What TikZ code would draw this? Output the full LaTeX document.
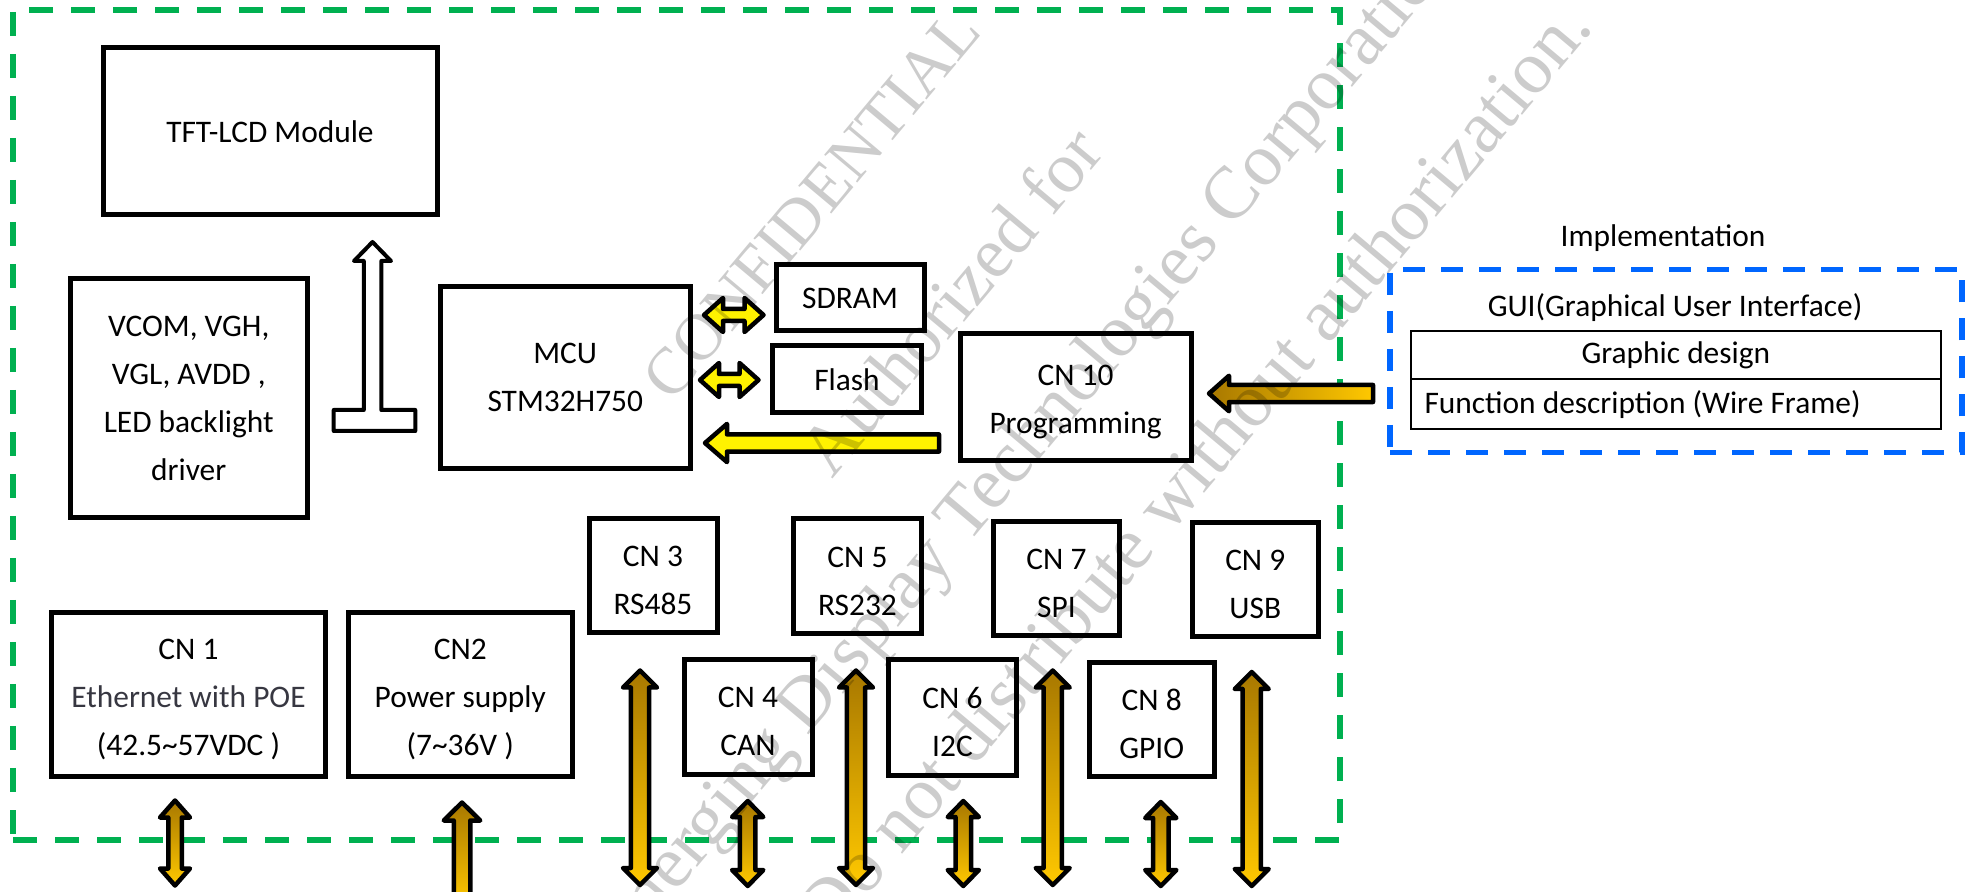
\documentclass[tikz,border=0pt]{standalone}
\usepackage{fontspec}
\setmainfont{Carlito}
\newfontfamily\wmfont{Liberation Serif}
\definecolor{boardgreen}{RGB}{0,176,80}
\definecolor{guiblue}{RGB}{0,102,255}
\definecolor{goldtop}{RGB}{168,120,0}
\definecolor{goldbot}{RGB}{255,200,0}
\definecolor{ethgray}{RGB}{55,55,65}
\newcommand\dfont{\fontsize{15.7}{24}\selectfont}
\newcommand\lowr{\rule{0pt}{15pt}}
\newcommand\vdblarrow[7]{%
  \path[#1] (#2,#3) -- ({#2+#5},{#3+#7}) -- ({#2+#6},{#3+#7}) -- ({#2+#6},{#4-#7}) -- ({#2+#5},{#4-#7}) -- (#2,#4) -- ({#2-#5},{#4-#7}) -- ({#2-#6},{#4-#7}) -- ({#2-#6},{#3+#7}) -- ({#2-#5},{#3+#7}) -- cycle;}
\newcommand\uparrowshape[7]{%
  \path[#1] (#2,#3) -- ({#2+#5},{#3+#7}) -- ({#2+#6},{#3+#7}) -- ({#2+#6},#4) -- ({#2-#6},#4) -- ({#2-#6},{#3+#7}) -- ({#2-#5},{#3+#7}) -- cycle;}
\newcommand\hdblarrow[7]{%
  \path[#1] (#3,#2) -- ({#3+#7},{#2-#5}) -- ({#3+#7},{#2-#6}) -- ({#4-#7},{#2-#6}) -- ({#4-#7},{#2-#5}) -- (#4,#2) -- ({#4-#7},{#2+#5}) -- ({#4-#7},{#2+#6}) -- ({#3+#7},{#2+#6}) -- ({#3+#7},{#2+#5}) -- cycle;}
\newcommand\larrowshape[7]{%
  \path[#1] (#3,#2) -- ({#3+#7},{#2-#5}) -- ({#3+#7},{#2-#6}) -- (#4,{#2-#6}) -- (#4,{#2+#6}) -- ({#3+#7},{#2+#6}) -- ({#3+#7},{#2+#5}) -- cycle;}
\begin{document}
\begin{tikzpicture}[x=0.5pt,y=-0.5pt,
  box/.style={draw=black, line width=2.5pt, fill=white, align=center, inner sep=0pt, font=\dfont},
  txt/.style={align=center, inner sep=0pt, font=\dfont},
  tbl/.style={draw=black, line width=1pt, inner sep=0pt, font=\dfont},
  goldv/.style={draw=black, line width=2.25pt, line join=round, top color=goldtop, bottom color=goldbot},
  goldh/.style={draw=black, line width=2.25pt, line join=round, left color=goldtop, right color=goldbot},
  yel/.style={draw=black, line width=2.25pt, line join=round, fill=yellow},
  hollow/.style={draw=black, line width=2pt, line join=round, fill=white},
  wm/.style={text=black, text opacity=0.2, inner sep=0pt, anchor=base west, rotate=50},
  gdash/.style={draw=boardgreen, line width=2.75pt, dash pattern=on 12pt off 9pt},
  bdash/.style={draw=guiblue, line width=2.6pt, dash pattern=on 11pt off 8pt}]
\useasboundingbox (0,0) rectangle (1971,892);
\clip (0,0) rectangle (1971,892);
\fill[white] (0,0) rectangle (1971,892);

% board outline
\node[gdash, minimum width=663.5pt, minimum height=415pt, inner sep=0pt] (board) at (676.5,425) {};

% top blocks
\node[box, minimum width=167pt, minimum height=83.25pt] (tft) at (270,131.25) {TFT-LCD Module};
\node[box, minimum width=118.25pt, minimum height=119.5pt] (drv) at (188.75,398) {VCOM, VGH,\\VGL, AVDD ,\\LED backlight\\driver};
\node[box, minimum width=125.25pt, minimum height=91.25pt] (mcu) at (565.25,377.75) {MCU\\STM32H750};
\node[box, minimum width=74pt, minimum height=33pt] (sdram) at (850,298) {SDRAM};
\node[box, minimum width=74.5pt, minimum height=33.25pt] (flash) at (847,379.25) {Flash};
\node[box, minimum width=115.5pt, minimum height=63.5pt] (cn10) at (1075.5,397.5) {\lowr CN 10\\Programming};

% connectors row
\node[box, minimum width=137pt, minimum height=81.75pt] (cn1) at (188.5,694.25) {\lowr CN 1\\\textcolor{ethgray}{Ethernet with POE}\\(42.5\textasciitilde57VDC )};
\node[box, minimum width=111.75pt, minimum height=81.75pt] (cn2) at (460.25,694.25) {\lowr CN2\\Power supply\\(7\textasciitilde36V )};
\node[box, minimum width=64pt, minimum height=57.25pt] (cn3) at (653,575.75) {\lowr CN 3\\RS485};
\node[box, minimum width=64pt, minimum height=57.5pt] (cn5) at (857.5,576.5) {\lowr CN 5\\RS232};
\node[box, minimum width=63pt, minimum height=56.85pt] (cn7) at (1056.4,578.35) {\lowr CN 7\\SPI};
\node[box, minimum width=62.75pt, minimum height=57pt] (cn9) at (1255.25,579.5) {\lowr CN 9\\USB};
\node[box, minimum width=64pt, minimum height=57.5pt] (cn4) at (748,717) {\lowr CN 4\\CAN};
\node[box, minimum width=64pt, minimum height=57.75pt] (cn6) at (952.5,717.75) {\lowr CN 6\\I2C};
\node[box, minimum width=62.5pt, minimum height=57.15pt] (cn8) at (1151.75,719.65) {\lowr CN 8\\GPIO};

% implementation block
\node[txt] (impl) at (1663,238) {Implementation};
\node[bdash, minimum width=286pt, minimum height=91.4pt, inner sep=0pt] (gui) at (1676,361.1) {};
\node[txt] (guititle) at (1675,308) {GUI(Graphical User Interface)};
\node[tbl, minimum width=265.15pt, minimum height=24.15pt] (gd) at (1675.85,355.15) {Graphic design};
\node[tbl, minimum width=265.15pt, minimum height=24.85pt] (fd) at (1675.85,404.15) {};
\node[txt, anchor=west] (fdtext) at ([xshift=7.2pt]fd.west) {Function description (Wire Frame)};

% hollow T arrow (driver -> TFT)
\path[hollow] (372.5,242) -- (391,261) -- (381.3,261) -- (381.3,410) -- (415.3,410) -- (415.3,431) -- (333.7,431) -- (333.7,410) -- (363.8,410) -- (363.8,261) -- (354,261) -- cycle;

% yellow arrows
\hdblarrow{yel}{315}{704}{763.5}{17}{6}{19}
\hdblarrow{yel}{380}{700}{758.5}{17}{6}{19}
\larrowshape{yel}{443}{705}{939}{19.1}{8.6}{22}

% gold arrows
\larrowshape{goldh}{393.5}{1209}{1373}{17.75}{8.55}{20}
\vdblarrow{goldv}{175}{800.5}{885.5}{15}{6.75}{17}
\uparrowshape{goldv}{462}{802.5}{905}{18.25}{8.25}{18}
\vdblarrow{goldv}{640}{670.5}{885}{17}{9.1}{17}
\vdblarrow{goldv}{856}{670.5}{885}{17}{9.1}{17}
\vdblarrow{goldv}{1052.7}{670.5}{885}{17}{9.1}{17}
\vdblarrow{goldv}{1251.7}{672}{886}{17}{9.1}{17}
\vdblarrow{goldv}{747.7}{801}{886}{15.6}{7.75}{16}
\vdblarrow{goldv}{963.3}{801}{886}{15.6}{7.75}{16}
\vdblarrow{goldv}{1160.8}{802}{886}{15.6}{7.75}{16}

% watermark
\node[wm, font=\wmfont\fontsize{33}{33}\selectfont] (wm1) at (672,404) {CONFIDENTIAL};
\node[wm, font=\wmfont\fontsize{36}{36}\selectfont] (wm2) at (832,480) {Authorized for};
\node[wm, font=\wmfont\fontsize{37}{37}\selectfont] (wm3) at (609,973) {Emerging Display Technologies Corporation.};
\node[wm, font=\wmfont\fontsize{37.5}{37.5}\selectfont] (wm4) at (830,940) {Do not distribute without authorization.};
\end{tikzpicture}
\end{document}
